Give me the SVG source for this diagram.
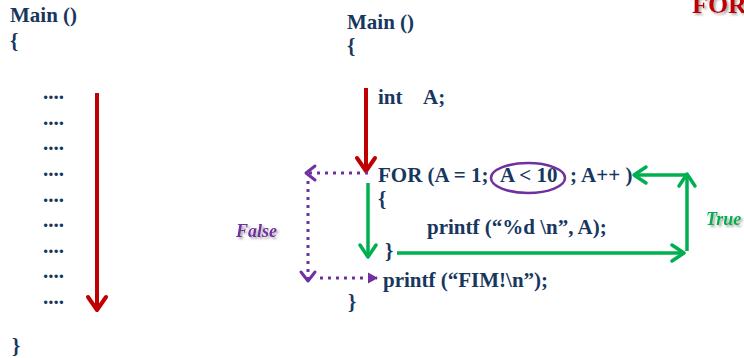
<svg xmlns="http://www.w3.org/2000/svg" width="744" height="358" viewBox="0 0 744 358">
<style>
.code{font-family:"Liberation Serif","Times New Roman",serif;font-weight:bold;font-size:21px;fill:#17375E}
.lbl{font-family:"Liberation Serif","Times New Roman",serif;font-weight:bold;font-style:italic;font-size:18px}
.red{stroke:#C00000;stroke-width:4;fill:none}
.grn{stroke:#00B050;stroke-width:3.5;fill:none}
.pur{stroke:#7030A0;stroke-width:3;fill:none;stroke-dasharray:3 5}
</style>
<defs>
<filter id="sh" x="-20%" y="-20%" width="150%" height="160%">
<feDropShadow dx="2" dy="2" stdDeviation="1" flood-color="#777" flood-opacity="0.6"/>
</filter>
<marker id="mr" markerUnits="userSpaceOnUse" viewBox="-16 -12 20 24" markerWidth="20" markerHeight="24" refX="0" refY="0" orient="auto">
<path d="M-13 -9 L0 0 L-13 9" fill="none" stroke="#C00000" stroke-width="4" stroke-linejoin="round" stroke-linecap="round"/>
</marker>
<marker id="mg" markerUnits="userSpaceOnUse" viewBox="-16 -12 20 24" markerWidth="20" markerHeight="24" refX="0" refY="0" orient="auto">
<path d="M-12 -8 L0 0 L-12 8" fill="none" stroke="#00B050" stroke-width="3.5" stroke-linejoin="round" stroke-linecap="round"/>
</marker>
<marker id="mp" markerUnits="userSpaceOnUse" viewBox="-14 -10 18 20" markerWidth="18" markerHeight="20" refX="0" refY="0" orient="auto">
<path d="M-9 -7 L0 0 L-9 7" fill="none" stroke="#7030A0" stroke-width="3" stroke-linejoin="round" stroke-linecap="round"/>
</marker>
<marker id="mpf" markerUnits="userSpaceOnUse" viewBox="-12 -8 14 16" markerWidth="14" markerHeight="16" refX="0" refY="0" orient="auto">
<path d="M-9 -5.5 L1 0 L-9 5.5 Z" fill="#7030A0"/>
</marker>
</defs>

<text x="692" y="13" font-family="Liberation Serif,serif" font-weight="bold" font-size="26" fill="#C00000" filter="url(#sh)">FOR</text>

<g id="left-code">
<text class="code" x="10" y="22">Main ()</text>
<text class="code" x="10" y="48">{</text>
<text class="code" x="43" y="99">....</text>
<text class="code" x="43" y="125">....</text>
<text class="code" x="43" y="150">....</text>
<text class="code" x="43" y="176">....</text>
<text class="code" x="43" y="202">....</text>
<text class="code" x="43" y="227">....</text>
<text class="code" x="43" y="253">....</text>
<text class="code" x="43" y="278">....</text>
<text class="code" x="43" y="304">....</text>
<text class="code" x="12" y="353">}</text>
</g>

<g id="right-code">
<text class="code" x="347" y="29">Main ()</text>
<text class="code" x="347" y="53">{</text>
<text class="code" x="378" y="104">int</text>
<text class="code" x="423" y="104">A;</text>
<text class="code" x="378" y="182">FOR (A = 1;</text>
<text class="code" x="500" y="182">A &lt; 10</text>
<text class="code" x="570" y="182">; A++ )</text>
<text class="code" x="378" y="206">{</text>
<text class="code" x="427" y="234">printf (“%d \n”, A);</text>
<text class="code" x="385" y="258">}</text>
<text class="code" x="383" y="287">printf (“FIM!\n”);</text>
<text class="code" x="348" y="309">}</text>
</g>

<g id="condition">
<ellipse cx="528" cy="178" rx="37" ry="15" fill="none" stroke="#7030A0" stroke-width="2.5"/>
</g>

<g id="labels">
<text class="lbl" x="236" y="237" fill="#7030A0" filter="url(#sh)">False</text>
<text class="lbl" x="706" y="225" fill="#00B050" filter="url(#sh)">True</text>
</g>

<g id="connectors">
<line class="red" x1="97" y1="93" x2="97" y2="310" marker-end="url(#mr)"/>
<line class="red" x1="366" y1="88" x2="366" y2="171" marker-end="url(#mr)"/>
<line class="grn" x1="368" y1="183" x2="368" y2="257" marker-end="url(#mg)"/>
<line class="grn" x1="397" y1="253" x2="684" y2="253" marker-end="url(#mg)"/>
<line class="grn" x1="687" y1="251" x2="687" y2="174" marker-end="url(#mg)"/>
<line class="grn" x1="687" y1="175" x2="634" y2="175" marker-end="url(#mg)"/>
<line class="pur" x1="368" y1="173" x2="306" y2="173" marker-end="url(#mp)"/>
<line class="pur" x1="308" y1="181" x2="308" y2="281" marker-end="url(#mp)"/>
<line class="pur" x1="320" y1="278" x2="377" y2="278" marker-end="url(#mpf)"/>
</g>
</svg>
